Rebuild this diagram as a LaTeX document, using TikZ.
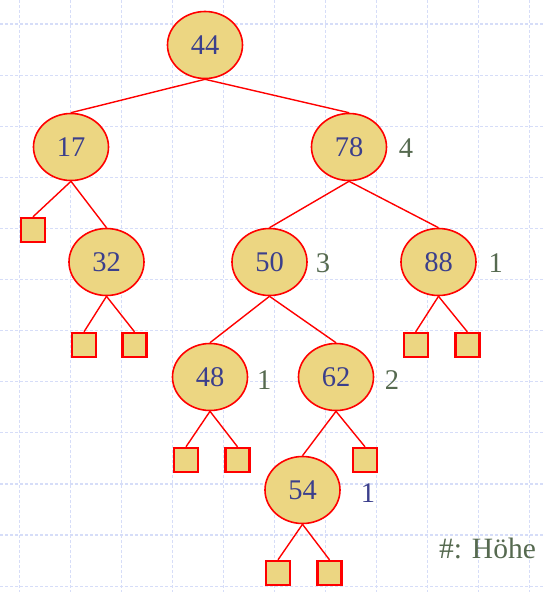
\documentclass[tikz,border=0pt]{standalone}
\usepackage{fontspec}
\setmainfont{Liberation Serif}
\usetikzlibrary{shapes.geometric}
\definecolor{gridc}{RGB}{214,221,248}
\definecolor{nodefill}{RGB}{236,214,130}
\definecolor{numc}{RGB}{59,63,140}
\definecolor{labc}{RGB}{86,106,80}
\tikzset{
  gridline/.style={gridc, line width=1.2pt, dash pattern=on 3pt off 2pt},
  keynode/.style={ellipse, draw=red, line width=1.6pt, fill=nodefill, minimum width=75pt, minimum height=67pt, inner sep=0pt, text=numc, font=\fontsize{28.5}{30}\selectfont},
  leaf/.style={rectangle, draw=red, line width=2.4pt, fill=nodefill, minimum width=24pt, minimum height=24pt, inner sep=0pt},
  edge/.style={red, line width=1.4pt},
  hlabel/.style={anchor=base, text=labc, font=\fontsize{28.5}{30}\selectfont},
}
\begin{document}
\begin{tikzpicture}[x=1pt, y=-1pt]
\useasboundingbox (0,0) rectangle (543,592);
\fill[white] (0,0) rectangle (543,592);
\foreach \k in {0,...,10} { \draw[gridline] (19.3+51*\k,0) -- (19.3+51*\k,592); }
\foreach \k in {0,...,11} { \draw[gridline] (0,24+51.1*\k) -- (543,24+51.1*\k); }

\node[keynode] (n44) at (205,45) {44};
\node[keynode] (n17) at (71,147) {17};
\node[keynode] (n78) at (349,147) {78};
\node[keynode] (n32) at (106.5,262) {32};
\node[keynode] (n50) at (269.5,262) {50};
\node[keynode] (n88) at (438.5,262) {88};
\node[keynode] (n48) at (210,377) {48};
\node[keynode] (n62) at (336,377) {62};
\node[keynode] (n54) at (302.5,490) {54};

\node[leaf] (l17) at (33,230) {};
\node[leaf] (l32a) at (84,345) {};
\node[leaf] (l32b) at (134.5,345) {};
\node[leaf] (l88a) at (415.7,345) {};
\node[leaf] (l88b) at (467.3,345) {};
\node[leaf] (l48a) at (186,460) {};
\node[leaf] (l48b) at (237.5,460) {};
\node[leaf] (l62) at (365,460) {};
\node[leaf] (l54a) at (278,573) {};
\node[leaf] (l54b) at (329.5,573) {};

\draw[edge] (n44.south) -- (n17.north);
\draw[edge] (n44.south) -- (n78.north);
\draw[edge] (n17.south) -- (l17.north);
\draw[edge] (n17.south) -- (n32.north);
\draw[edge] (n32.south) -- (l32a.north);
\draw[edge] (n32.south) -- (l32b.north);
\draw[edge] (n78.south) -- (n50.north);
\draw[edge] (n78.south) -- (n88.north);
\draw[edge] (n88.south) -- (l88a.north);
\draw[edge] (n88.south) -- (l88b.north);
\draw[edge] (n50.south) -- (n48.north);
\draw[edge] (n50.south) -- (n62.north);
\draw[edge] (n48.south) -- (l48a.north);
\draw[edge] (n48.south) -- (l48b.north);
\draw[edge] (n62.south) -- (n54.north);
\draw[edge] (n62.south) -- (l62.north);
\draw[edge] (n54.south) -- (l54a.north);
\draw[edge] (n54.south) -- (l54b.north);

\node[hlabel] (h78) at (406,157) {4};
\node[hlabel] (h50) at (323,272) {3};
\node[hlabel] (h88) at (495.7,272) {1};
\node[hlabel] (h48) at (264.3,389) {1};
\node[hlabel] (h62) at (392,389) {2};
\node[hlabel, text=numc] (h54) at (368,502) {1};
\node[anchor=base west, text=labc, font=\fontsize{29.5}{31}\selectfont, inner sep=0pt] (legend) at (439,558) {\#: Höhe};
\end{tikzpicture}
\end{document}
